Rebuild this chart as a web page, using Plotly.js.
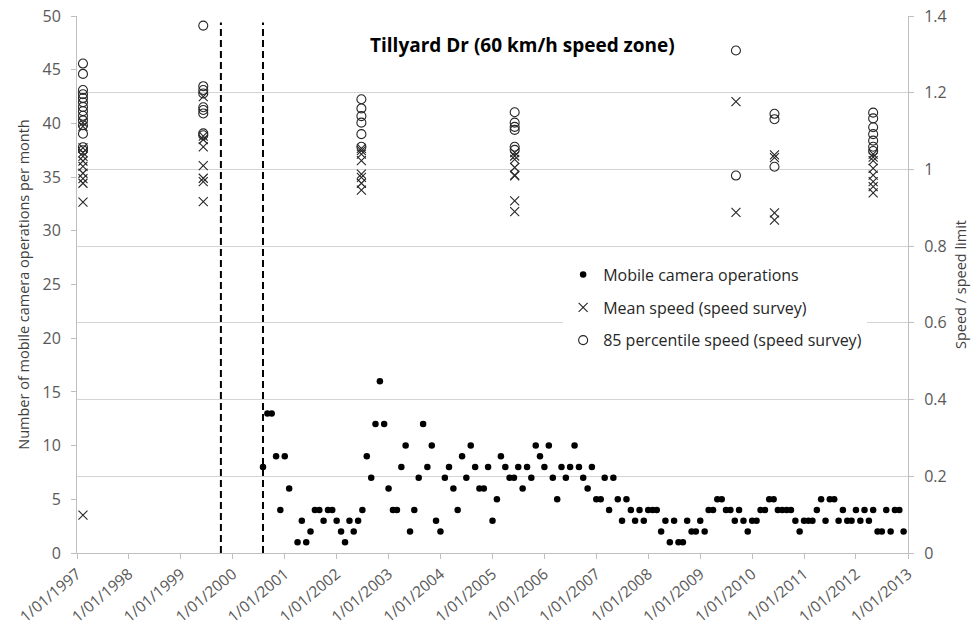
<!DOCTYPE html>
<html>
<head>
<meta charset="utf-8">
<script src="https://cdn.plot.ly/plotly-3.0.1.min.js"></script>
<style>html,body{margin:0;padding:0;background:#fff;}#chart{width:978px;height:634px;}</style>
</head>
<body>
<div id="chart"></div>
<script>
// ---- Mobile camera operations per month (left axis) ----
const mobileDates = [
'2000-08-01','2000-09-01','2000-10-01','2000-11-01','2000-12-01',
'2001-01-01','2001-02-01','2001-04-01','2001-05-01','2001-06-01','2001-07-01','2001-08-01','2001-09-01','2001-10-01','2001-11-01','2001-12-01',
'2002-01-01','2002-02-01','2002-03-01','2002-04-01','2002-05-01','2002-06-01','2002-07-01','2002-08-01','2002-09-01','2002-10-01','2002-11-01','2002-12-01',
'2003-01-01','2003-02-01','2003-03-01','2003-04-01','2003-05-01','2003-06-01','2003-07-01','2003-08-01','2003-09-01','2003-10-01','2003-11-01','2003-12-01',
'2004-01-01','2004-02-01','2004-03-01','2004-04-01','2004-05-01','2004-06-01','2004-07-01','2004-08-01','2004-09-01','2004-10-01','2004-11-01','2004-12-01',
'2005-01-01','2005-02-01','2005-03-01','2005-04-01','2005-05-01','2005-06-01','2005-07-01','2005-08-01','2005-09-01','2005-10-01','2005-11-01','2005-12-01',
'2006-01-01','2006-02-01','2006-03-01','2006-04-01','2006-05-01','2006-06-01','2006-07-01','2006-08-01','2006-09-01','2006-10-01','2006-11-01','2006-12-01',
'2007-01-01','2007-02-01','2007-03-01','2007-04-01','2007-05-01','2007-06-01','2007-07-01','2007-08-01','2007-09-01','2007-10-01','2007-11-01','2007-12-01',
'2008-01-01','2008-02-01','2008-03-01','2008-04-01','2008-05-01','2008-06-01','2008-07-01','2008-08-01','2008-09-01','2008-10-01','2008-11-01','2008-12-01',
'2009-01-01','2009-02-01','2009-03-01','2009-04-01','2009-05-01','2009-06-01','2009-07-01','2009-08-01','2009-09-01','2009-10-01','2009-11-01','2009-12-01',
'2010-01-01','2010-02-01','2010-03-01','2010-04-01','2010-05-01','2010-06-01','2010-07-01','2010-08-01','2010-09-01','2010-10-01','2010-11-01','2010-12-01',
'2011-01-01','2011-02-01','2011-03-01','2011-04-01','2011-05-01','2011-06-01','2011-07-01','2011-08-01','2011-09-01','2011-10-01','2011-11-01','2011-12-01',
'2012-01-01','2012-02-01','2012-03-01','2012-04-01','2012-05-01','2012-06-01','2012-07-01','2012-08-01','2012-09-01','2012-10-01','2012-11-01','2012-12-01'
];
const mobileOps = [
8,13,13,9,4,
9,6,1,3,1,2,4,4,3,4,4,
3,2,1,3,2,3,4,9,7,12,16,12,
6,4,4,8,10,2,4,7,12,8,10,3,
2,7,8,6,4,9,7,10,8,6,6,8,
3,5,9,8,7,7,8,6,8,7,10,9,
8,10,7,5,8,7,8,10,8,7,6,8,
5,5,7,4,7,5,3,5,4,3,4,3,
4,4,4,2,3,1,3,1,1,3,2,2,
3,2,4,4,5,5,4,4,3,4,3,2,
3,3,4,4,5,5,4,4,4,4,3,2,
3,3,3,4,5,3,5,5,3,4,3,3,
4,3,4,3,4,2,2,4,2,4,4,2
];

// ---- Speed surveys (right axis, speed / speed limit) ----
const meanDates = [
'1997-02-12','1997-02-12','1997-02-12','1997-02-12','1997-02-12','1997-02-12','1997-02-12','1997-02-12','1997-02-12','1997-02-12','1997-02-12','1997-02-12',
'1999-06-08','1999-06-08','1999-06-08','1999-06-08','1999-06-08','1999-06-08','1999-06-08','1999-06-08',
'2002-06-24','2002-06-24','2002-06-24','2002-06-24','2002-06-24','2002-06-24','2002-06-24','2002-06-24',
'2005-06-06','2005-06-06','2005-06-06','2005-06-06','2005-06-06','2005-06-06','2005-06-06','2005-06-06',
'2009-09-09','2009-09-09',
'2010-06-07','2010-06-07','2010-06-07','2010-06-07',
'2012-05-01','2012-05-01','2012-05-01','2012-05-01','2012-05-01','2012-05-01','2012-05-01','2012-05-01'
];
const meanSpeed = [
1.122,1.112,1.056,1.044,1.034,1.022,1.008,0.990,0.976,0.964,0.915,0.099,
1.190,1.087,1.078,1.059,1.010,0.977,0.968,0.916,
1.055,1.049,1.040,1.023,0.988,0.979,0.964,0.946,
1.044,1.035,1.026,1.005,0.985,0.983,0.918,0.890,
1.177,0.888,
1.038,1.031,0.887,0.868,
1.040,1.032,1.023,1.003,0.985,0.968,0.955,0.939
];
const p85Dates = [
'1997-02-12','1997-02-12','1997-02-12','1997-02-12','1997-02-12','1997-02-12','1997-02-12','1997-02-12','1997-02-12','1997-02-12','1997-02-12','1997-02-12','1997-02-12','1997-02-12',
'1999-06-08','1999-06-08','1999-06-08','1999-06-08','1999-06-08','1999-06-08','1999-06-08','1999-06-08','1999-06-08',
'2002-06-24','2002-06-24','2002-06-24','2002-06-24','2002-06-24','2002-06-24',
'2005-06-06','2005-06-06','2005-06-06','2005-06-06','2005-06-06','2005-06-06',
'2009-09-09','2009-09-09',
'2010-06-07','2010-06-07','2010-06-07',
'2012-05-01','2012-05-01','2012-05-01','2012-05-01','2012-05-01','2012-05-01','2012-05-01'
];
const p85Speed = [
1.276,1.249,1.207,1.196,1.186,1.175,1.163,1.152,1.140,1.128,1.115,1.093,1.058,1.050,
1.375,1.217,1.207,1.198,1.162,1.155,1.146,1.094,1.089,
1.183,1.159,1.139,1.122,1.092,1.059,
1.149,1.122,1.111,1.103,1.059,1.051,
1.310,0.984,
1.145,1.131,1.007,
1.148,1.133,1.110,1.092,1.075,1.059,1.048
];

// ---- Intervention dates (dashed vertical lines) ----
const interventionDates = ['1999-10-10','2000-08-01'];

// ---- Tick labels ----
const tickDates = ['1997-01-01','1998-01-01','1999-01-01','2000-01-01','2001-01-01','2002-01-01','2003-01-01','2004-01-01','2005-01-01','2006-01-01','2007-01-01','2008-01-01','2009-01-01','2010-01-01','2011-01-01','2012-01-01','2013-01-01'];
const tickLabels = ['1/01/1997','1/01/1998','1/01/1999','1/01/2000','1/01/2001','1/01/2002','1/01/2003','1/01/2004','1/01/2005','1/01/2006','1/01/2007','1/01/2008','1/01/2009','1/01/2010','1/01/2011','1/01/2012','1/01/2013'];

const FONT = 'Open Sans, Noto Sans, sans-serif';
const traces = [
  {x: mobileDates, y: mobileOps, type: 'scatter', mode: 'markers', name: 'Mobile camera operations',
   legendgroup: 'a', yaxis: 'y', marker: {symbol: 'circle', size: 6.5, color: '#000000'}},
  {x: meanDates, y: meanSpeed, type: 'scatter', mode: 'markers', name: 'Mean speed (speed survey)',
   legendgroup: 'b', yaxis: 'y2', marker: {symbol: 'x-thin-open', size: 9, color: '#262626', line: {color: '#262626', width: 1.1}}},
  {x: p85Dates, y: p85Speed, type: 'scatter', mode: 'markers', name: '85 percentile speed (speed survey)',
   legendgroup: 'c', yaxis: 'y2', marker: {symbol: 'circle-open', size: 9, color: '#262626', line: {color: '#262626', width: 1.1}}}
];

const shapes = interventionDates.map(d => ({
  type: 'line', xref: 'x', yref: 'paper', x0: d, x1: d, y0: 0, y1: 0.988,
  line: {color: '#000000', width: 2, dash: '7px,4px'}, layer: 'above'
}));

const layout = {
  width: 978, height: 634,
  margin: {l: 77, r: 70, t: 16, b: 81},
  paper_bgcolor: '#ffffff', plot_bgcolor: '#ffffff',
  font: {family: FONT, color: '#404040'},
  showlegend: true,
  legend: {x: 0.585, y: 0.55, xanchor: 'left', yanchor: 'top', bgcolor: '#ffffff',
           font: {family: FONT, size: 16, color: '#262626'}, traceorder: 'grouped', tracegroupgap: 9},
  xaxis: {type: 'date', range: ['1997-01-01', '2013-01-01'], tickvals: tickDates, ticktext: tickLabels,
          tickangle: -40, ticks: 'outside', ticklen: 5, tickcolor: '#bfbfbf', showline: true, linecolor: '#bfbfbf',
          showgrid: false, zeroline: false, tickfont: {family: FONT, size: 15.5, color: '#595959'}},
  yaxis: {range: [0, 50], dtick: 5, ticks: 'outside', ticklen: 5, tickcolor: '#bfbfbf', showline: true,
          linecolor: '#bfbfbf', showgrid: false, zeroline: false, ticklabelstandoff: 7,
          tickfont: {family: FONT, size: 16, color: '#595959'},
          title: {text: 'Number of mobile camera operations per month', font: {family: FONT, size: 14.5, color: '#404040'}, standoff: 9}},
  yaxis2: {overlaying: 'y', side: 'right', range: [0, 1.4], dtick: 0.2, ticks: 'outside', ticklen: 5, tickcolor: '#bfbfbf',
           showline: true, linecolor: '#bfbfbf', showgrid: true, gridcolor: '#d4d4d4', zeroline: false, ticklabelstandoff: 7,
           tickfont: {family: FONT, size: 16, color: '#595959'},
           title: {text: 'Speed / speed limit', font: {family: FONT, size: 14.5, color: '#404040'}, standoff: 10}},
  shapes: shapes,
  annotations: [{text: '<b>Tillyard Dr (60 km/h speed zone)</b>', xref: 'paper', yref: 'paper', x: 0.5355, y: 0.946,
                 xanchor: 'center', yanchor: 'middle', showarrow: false, font: {family: FONT, size: 19, color: '#000000'}}]
};

Plotly.newPlot('chart', traces, layout, {displayModeBar: false, staticPlot: true});
</script>
</body>
</html>
